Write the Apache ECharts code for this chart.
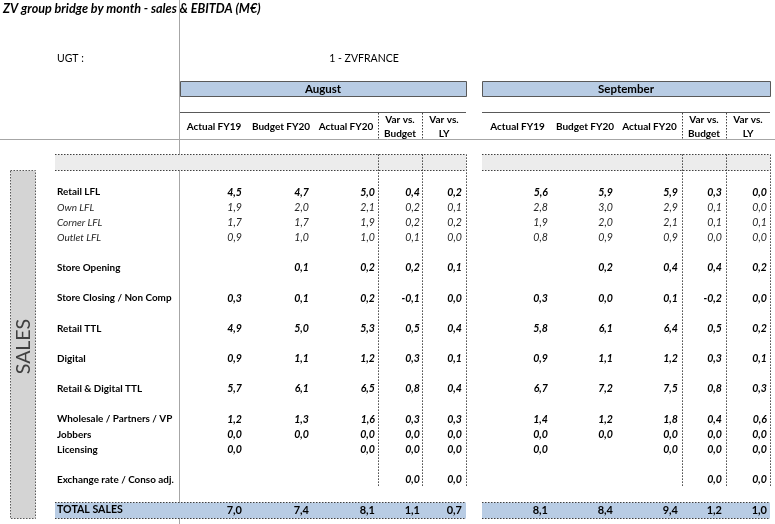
<!DOCTYPE html>
<html><head><meta charset="utf-8">
<script src="https://cdn.jsdelivr.net/npm/echarts@6/dist/echarts.min.js"></script>
<style>html,body{margin:0;padding:0;background:#fff}#c{width:775px;height:524px}</style>
</head><body><div id="c"></div>
<script>
// ---------- DATA ----------
const title = "ZV group bridge by month - sales & EBITDA (M€)";
const ugtLabel = "UGT :";
const ugtValue = "1 - ZVFRANCE";
const sectionLabel = "SALES";
const months = ["August", "September"];
const columnHeaders = [["Actual FY19"], ["Budget FY20"], ["Actual FY20"], ["Var vs.", "Budget"], ["Var vs.", "LY"]];
const lineItems = ["Retail LFL", "Own LFL", "Corner LFL", "Outlet LFL", "Store Opening", "Store Closing / Non Comp",
  "Retail TTL", "Digital", "Retail & Digital TTL", "Wholesale / Partners / VP", "Jobbers", "Licensing",
  "Exchange rate / Conso adj.", "TOTAL SALES"];
// August
const augActualFY19 = [4.5, 1.9, 1.7, 0.9, null, 0.3, 4.9, 0.9, 5.7, 1.2, 0.0, 0.0, null, 7.0];
const augBudgetFY20 = [4.7, 2.0, 1.7, 1.0, 0.1, 0.1, 5.0, 1.1, 6.1, 1.3, 0.0, null, null, 7.4];
const augActualFY20 = [5.0, 2.1, 1.9, 1.0, 0.2, 0.2, 5.3, 1.2, 6.5, 1.6, 0.0, 0.0, null, 8.1];
const augVarBudget  = [0.4, 0.2, 0.2, 0.1, 0.2, -0.1, 0.5, 0.3, 0.8, 0.3, 0.0, 0.0, 0.0, 1.1];
const augVarLY      = [0.2, 0.1, 0.2, 0.0, 0.1, 0.0, 0.4, 0.1, 0.4, 0.3, 0.0, 0.0, 0.0, 0.7];
// September
const sepActualFY19 = [5.6, 2.8, 1.9, 0.8, null, 0.3, 5.8, 0.9, 6.7, 1.4, 0.0, 0.0, null, 8.1];
const sepBudgetFY20 = [5.9, 3.0, 2.0, 0.9, 0.2, 0.0, 6.1, 1.1, 7.2, 1.2, 0.0, null, null, 8.4];
const sepActualFY20 = [5.9, 2.9, 2.1, 0.9, 0.4, 0.1, 6.4, 1.2, 7.5, 1.8, 0.0, 0.0, null, 9.4];
const sepVarBudget  = [0.3, 0.1, 0.1, 0.0, 0.4, -0.2, 0.5, 0.3, 0.8, 0.4, 0.0, 0.0, 0.0, 1.2];
const sepVarLY      = [0.0, 0.0, 0.1, 0.0, 0.2, 0.0, 0.2, 0.1, 0.3, 0.6, 0.0, 0.0, 0.0, 1.0];

// ---------- LAYOUT / STYLE ----------
const lineRows  = [2, 3, 4, 5, 7, 9, 11, 13, 15, 17, 18, 19, 21, 23]; // row slot of each line item
const lineKinds = ["bold", "sub", "sub", "sub", "bold", "bold", "bold", "bold", "bold", "bold", "bold", "bold", "bold", "total"];
const rowCount = 24;
const labelX = 57;
const blocks = [
  { edges: [180, 248, 314, 378, 422, 466], valueRight: [242, 309, 375, 420, 462],
    cols: [augActualFY19, augBudgetFY20, augActualFY20, augVarBudget, augVarLY] },
  { edges: [482, 553, 617, 682, 726, 770], valueRight: [548, 613, 678, 722, 767],
    cols: [sepActualFY19, sepBudgetFY20, sepActualFY20, sepVarBudget, sepVarLY] }
];
const FONT = "Lato, 'Open Sans', sans-serif";
const fmt = v => v == null ? "" : v.toFixed(1).replace(".", ",");

// cells
const cells = [];
lineItems.forEach((name, i) => {
  cells.push({ x: labelX, row: lineRows[i], text: name, kind: lineKinds[i], align: "left", label: true });
  blocks.forEach(b => b.cols.forEach((col, c) => {
    const t = fmt(col[i]);
    if (t) cells.push({ x: b.valueRight[c], row: lineRows[i], text: t, kind: lineKinds[i], align: "right" });
  }));
});

function cellFont(kind, isLabel) {
  if (kind === "total") return "bold " + (isLabel ? "10.6px " : "11px ") + FONT;
  if (kind === "sub") return "italic " + (isLabel ? "10px " : "10.6px ") + FONT;
  return (isLabel ? "bold 9.9px " : "italic bold 10.6px ") + FONT;
}

const chart = echarts.init(document.getElementById("c"));

// decorations (bands, dashes, side box) tied to row slots
const decor = [
  { t: "sideBox" },
  { t: "band", row: 0, x0: 55, x1: 466, fill: "#ececec" },
  { t: "band", row: 0, x0: 482, x1: 770, fill: "#ececec" },
  { t: "band", row: 23, x0: 55, x1: 466, fill: "#b8cce4" },
  { t: "band", row: 23, x0: 482, x1: 770, fill: "#b8cce4" },
  { t: "vdash", x: 378 }, { t: "vdash", x: 422 }, { t: "vdash", x: 466 },
  { t: "vdash", x: 682 }, { t: "vdash", x: 726 }, { t: "vdash", x: 770 }
];

const headerGraphics = [];
headerGraphics.push({ type: "line", shape: { x1: 179.5, y1: 0, x2: 179.5, y2: 524 }, style: { stroke: "#a6a6a6", lineWidth: 1 }, z: 1 });
headerGraphics.push({ type: "line", shape: { x1: 0, y1: 139.5, x2: 775, y2: 139.5 }, style: { stroke: "#a6a6a6", lineWidth: 1 }, z: 1 });
headerGraphics.push({ type: "text", x: 3, y: 9, style: { text: title, font: "italic bold 12.6px " + FONT, fill: "#000", verticalAlign: "middle" } });
headerGraphics.push({ type: "text", x: 57, y: 59, style: { text: ugtLabel, font: "10.5px " + FONT, fill: "#000", verticalAlign: "middle" } });
headerGraphics.push({ type: "text", x: 364, y: 59, style: { text: ugtValue, font: "10.5px " + FONT, fill: "#000", align: "center", verticalAlign: "middle" } });
blocks.forEach((b, bi) => {
  const x0 = b.edges[0], x1 = b.edges[5];
  headerGraphics.push({ type: "rect", shape: { x: x0 + 0.5, y: 81.5, width: x1 - x0, height: 15 }, style: { fill: "#b8cce4", stroke: "#595959", lineWidth: 1 } });
  headerGraphics.push({ type: "text", x: (x0 + x1) / 2, y: 89.5, style: { text: months[bi], font: "bold 11.5px " + FONT, fill: "#000", align: "center", verticalAlign: "middle" } });
  headerGraphics.push({ type: "line", shape: { x1: x0, y1: 112.5, x2: x1, y2: 112.5 }, style: { stroke: "#595959", lineWidth: 1 } });
  [3, 4].forEach(k => headerGraphics.push({ type: "line", shape: { x1: b.edges[k] + 0.5, y1: 113, x2: b.edges[k] + 0.5, y2: 139 }, style: { stroke: "#404040", lineWidth: 1, lineDash: [1.5, 1.5] } }));
  columnHeaders.forEach((h, c) => {
    const cx = (b.edges[c] + b.edges[c + 1]) / 2;
    if (h.length === 1) {
      headerGraphics.push({ type: "text", x: cx, y: 127, style: { text: h[0], font: "bold 10px " + FONT, fill: "#000", align: "center", verticalAlign: "middle" } });
    } else {
      headerGraphics.push({ type: "text", x: cx, y: 120, style: { text: h[0], font: "bold 10px " + FONT, fill: "#000", align: "center", verticalAlign: "middle" } });
      headerGraphics.push({ type: "text", x: cx, y: 134, style: { text: h[1], font: "bold 10px " + FONT, fill: "#000", align: "center", verticalAlign: "middle" } });
    }
  });
});

chart.setOption({
  animation: false,
  backgroundColor: "#fff",
  grid: { left: 0, right: 0, top: 154.4, bottom: 6.4 },
  xAxis: { type: "value", min: 0, max: 775, show: false },
  yAxis: { type: "category", inverse: true, show: false, data: Array.from({ length: rowCount }, (_, i) => String(i)) },
  graphic: headerGraphics,
  series: [
    {
      type: "custom", clip: false, z: 1,
      data: decor.map((d, i) => [d.x || 0, d.row || 0]),
      renderItem: (params, api) => {
        const d = decor[params.dataIndex];
        const h = api.size([0, 1])[1];
        if (d.t === "band") {
          const p0 = api.coord([d.x0, d.row]), p1 = api.coord([d.x1, d.row]);
          const y0 = Math.round(p0[1] - h / 2) + 0.5, y1 = Math.round(p0[1] + h / 2) + 0.5;
          return { type: "group", children: [
            { type: "rect", shape: { x: p0[0], y: y0, width: p1[0] - p0[0], height: y1 - y0 }, style: { fill: d.fill } },
            { type: "line", shape: { x1: p0[0], y1: y0, x2: p1[0], y2: y0 }, style: { stroke: "#404040", lineWidth: 1, lineDash: [1.5, 1.5] } },
            { type: "line", shape: { x1: p0[0], y1: y1, x2: p1[0], y2: y1 }, style: { stroke: "#404040", lineWidth: 1, lineDash: [1.5, 1.5] } }
          ] };
        }
        if (d.t === "vdash") {
          const a = api.coord([d.x, 0]), b = api.coord([d.x, 21]);
          const x = Math.round(a[0]) + 0.5;
          return { type: "line", shape: { x1: x, y1: a[1] - h / 2, x2: x, y2: b[1] + h / 2 }, style: { stroke: "#404040", lineWidth: 1, lineDash: [1.5, 1.5] } };
        }
        if (d.t === "sideBox") {
          const a = api.coord([10, 1]), b = api.coord([35, 23]);
          const y0 = Math.round(a[1] - h / 2) + 0.5, y1 = Math.round(b[1] + h / 2) + 0.5;
          return { type: "group", children: [
            { type: "rect", shape: { x: a[0] + 0.5, y: y0, width: b[0] - a[0], height: y1 - y0 }, style: { fill: "#d4d4d4", stroke: "#595959", lineWidth: 1, lineDash: [1.5, 1.5] } },
            { type: "text", x: (a[0] + b[0]) / 2 + 1, y: (y0 + y1) / 2 + 2, rotation: Math.PI / 2, style: { text: sectionLabel, font: "19.5px " + FONT, fill: "#404040", align: "center", verticalAlign: "middle" } }
          ] };
        }
      }
    },
    {
      type: "custom", clip: false, z: 3,
      data: cells.map(c => [c.x, c.row]),
      renderItem: (params, api) => {
        const c = cells[params.dataIndex];
        const p = api.coord([api.value(0), api.value(1)]);
        const sub = c.kind === "sub";
        return { type: "text", x: p[0], y: p[1], style: {
          text: c.text, font: cellFont(c.kind, c.label), fill: sub ? "#262626" : "#000",
          align: c.align, verticalAlign: "middle" } };
      }
    }
  ]
});
</script></body></html>
